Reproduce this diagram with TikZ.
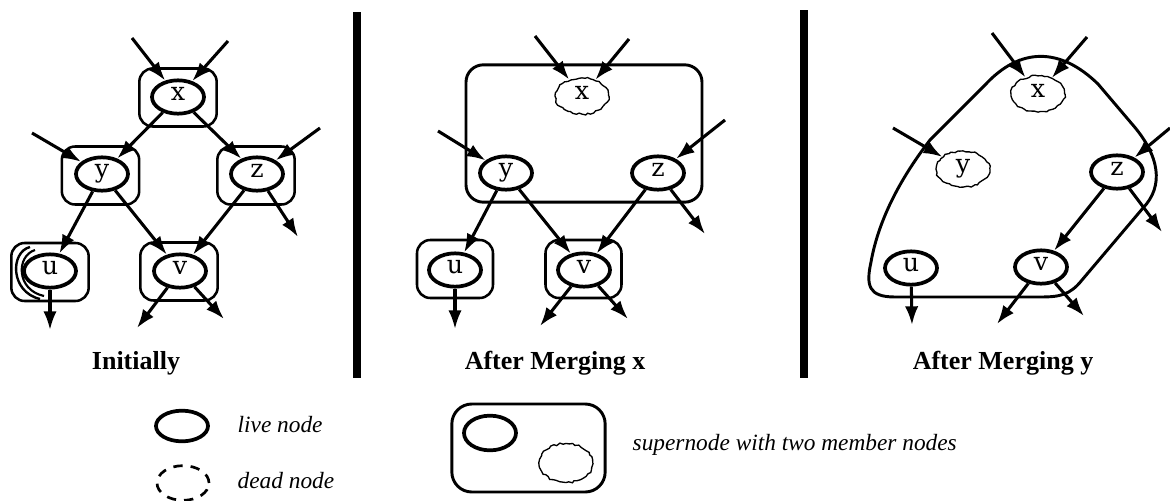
\documentclass[tikz,border=0pt]{standalone}
\usepackage{fontspec}
\setmainfont{Liberation Serif}
\newfontfamily\nodefont{DejaVu Serif}
\usetikzlibrary{shapes.geometric,arrows.meta,decorations.pathmorphing}
\begin{document}
\begin{tikzpicture}[x=0.75pt,y=-0.75pt,
  live/.style={ellipse,draw,line width=2.8pt,minimum width=39pt,minimum height=25pt,inner sep=0pt,
    font=\nodefont\fontsize{19}{19}\selectfont,text height=1.0ex,text depth=0pt},
  dead/.style={ellipse,draw,line width=1pt,minimum width=40pt,minimum height=27pt,inner sep=0pt,
    decorate,decoration={random steps,segment length=2.2pt,amplitude=0.7pt},
    font=\nodefont\fontsize{19}{19}\selectfont,text height=1.0ex,text depth=0pt},
  outerbox/.style={rectangle,draw,line width=1.9pt,rounded corners=10pt,minimum width=58pt,minimum height=43.5pt,inner sep=0pt},
  arr/.style={line width=2.3pt,-{Latex[length=14pt,width=10pt]}},
  bar/.style={line width=6pt},
  caption/.style={font=\bfseries\fontsize{19.5}{19.5}\selectfont,anchor=base},
  legtext/.style={font=\itshape\fontsize{17.5}{17.5}\selectfont,anchor=base west}
]
\pgfmathsetseed{7}
\useasboundingbox (0,0) rectangle (1170,500);

% separator bars
\coordinate (b1t) at (357,12); \coordinate (b1b) at (357,378);
\coordinate (b2t) at (804,10); \coordinate (b2b) at (804,378);
\draw[bar] (b1t) -- (b1b);
\draw[bar] (b2t) -- (b2b);

% ---------------- Panel 1: Initially ----------------
\node[outerbox] (XB1) at (178,97.5) {};
\node[outerbox] (YB1) at (100.5,175.5) {};
\node[outerbox] (ZB1) at (256,175.5) {};
\node[outerbox] (UB1) at (50,272) {};
\node[outerbox] (VB1) at (179,271.5) {};
\draw[line width=1.8pt] (30,247) .. controls (10,252) and (10,292) .. (40,299);
\draw[line width=1.6pt] (35,250) .. controls (16,256) and (16,290) .. (44,296);
\node[live] (X1) at (178,97) {x};
\node[live] (Y1) at (102,174) {y};
\node[live] (Z1) at (257,174) {z};
\node[live] (U1) at (50,271) {u};
\node[live] (V1) at (180,271) {v};
\coordinate (xi1a) at (132,38); \coordinate (xi1b) at (228,41);
\coordinate (yi1) at (32,133); \coordinate (zi1) at (320,128);
\coordinate (zo1) at (298,237); \coordinate (uo1) at (50,330);
\coordinate (vo1a) at (137,328); \coordinate (vo1b) at (224,319);
\draw[arr] (xi1a) -- (X1);
\draw[arr] (xi1b) -- (X1);
\draw[arr] (yi1) -- (Y1);
\draw[arr] (zi1) -- (Z1);
\draw[arr] (X1) -- (Y1);
\draw[arr] (X1) -- (Z1);
\draw[arr] (Y1) -- (U1);
\draw[arr] (Y1) -- (V1);
\draw[arr] (Z1) -- (V1);
\draw[arr] (Z1) -- (zo1);
\draw[arr] (U1) -- (uo1);
\draw[arr] (V1) -- (vo1a);
\draw[arr] (V1) -- (vo1b);
\node[caption] (C1) at (136,369) {Initially};

% ---------------- Panel 2: After Merging x ----------------
\node[rectangle,draw,line width=2.2pt,rounded corners=13pt,minimum width=177pt,minimum height=103pt,inner sep=0pt] (S2) at (584,133.5) {};
\node[outerbox,minimum width=57pt] (UB2) at (455,269) {};
\node[outerbox,minimum width=57pt] (VB2) at (583.5,269) {};
\node[dead] (X2) at (582,96) {x};
\node[live] (Y2) at (506,173) {y};
\node[live] (Z2) at (658,173) {z};
\node[live] (U2) at (455,270) {u};
\node[live] (V2) at (584,270) {v};
\coordinate (xi2a) at (535,36); \coordinate (xi2b) at (629,39);
\coordinate (yi2) at (438,131); \coordinate (zi2) at (725,120);
\coordinate (zo2) at (705,234); \coordinate (uo2) at (455,329);
\coordinate (vo2a) at (540,326); \coordinate (vo2b) at (628,319);
\draw[arr] (xi2a) -- (X2);
\draw[arr] (xi2b) -- (X2);
\draw[arr] (yi2) -- (Y2);
\draw[arr] (zi2) -- (Z2);
\draw[arr] (Y2) -- (U2);
\draw[arr] (Y2) -- (V2);
\draw[arr] (Z2) -- (V2);
\draw[arr] (Z2) -- (zo2);
\draw[arr] (U2) -- (uo2);
\draw[arr] (V2) -- (vo2a);
\draw[arr] (V2) -- (vo2b);
\node[caption] (C2) at (555,369) {After Merging x};

% ---------------- Panel 3: After Merging y ----------------
\draw[line width=2.2pt] (985,85) .. controls (1020,47) and (1060,47) .. (1098,84)
  -- (1132,124) .. controls (1160,156) and (1164,186) .. (1143,208)
  -- (1082,280) .. controls (1070,295) and (1060,297) .. (1040,297)
  -- (895,297) .. controls (868,297) and (866,285) .. (871,262)
  .. controls (879,217) and (903,175) .. (930,140) -- cycle;
\node[dead] (X3) at (1038,94) {x};
\node[dead] (Y3) at (963,169) {y};
\node[live] (Z3) at (1117,172) {z};
\node[live] (U3) at (911,268) {u};
\node[live] (V3) at (1041,267) {v};
\coordinate (xi3a) at (992,33); \coordinate (xi3b) at (1087,37);
\coordinate (yi3) at (893,128); \coordinate (zi3) at (1170,128);
\coordinate (zo3) at (1162,232); \coordinate (uo3) at (912,325);
\coordinate (vo3a) at (997,324); \coordinate (vo3b) at (1084,316);
\draw[arr] (xi3a) -- (X3);
\draw[arr] (xi3b) -- (X3);
\draw[arr] (yi3) -- (Y3);
\draw[arr] (zi3) -- (Z3);
\draw[arr] (Z3) -- (V3);
\draw[arr] (Z3) -- (zo3);
\draw[arr] (U3) -- (uo3);
\draw[arr] (V3) -- (vo3a);
\draw[arr] (V3) -- (vo3b);
\node[caption] (C3) at (1003,369) {After Merging y};

% ---------------- Legend ----------------
\node[live,minimum width=39pt,minimum height=23pt] (LL) at (182,426) {};
\node[legtext] (LLt) at (233,432) {live node};
\node[ellipse,draw,line width=2pt,dash pattern=on 7pt off 6pt,minimum width=39pt,minimum height=26pt,inner sep=0pt] (LD) at (183,483) {};
\node[legtext] (LDt) at (233,488) {dead node};
\node[rectangle,draw,line width=2.2pt,rounded corners=15pt,minimum width=115pt,minimum height=66pt,inner sep=0pt] (LS) at (528.5,448) {};
\node[live,minimum width=39pt,minimum height=26pt] (LSa) at (490,433) {};
\node[dead,minimum width=40pt,minimum height=29pt] (LSb) at (566,463) {};
\node[legtext] (LSt) at (628,450) {supernode with two member nodes};
\end{tikzpicture}
\end{document}
